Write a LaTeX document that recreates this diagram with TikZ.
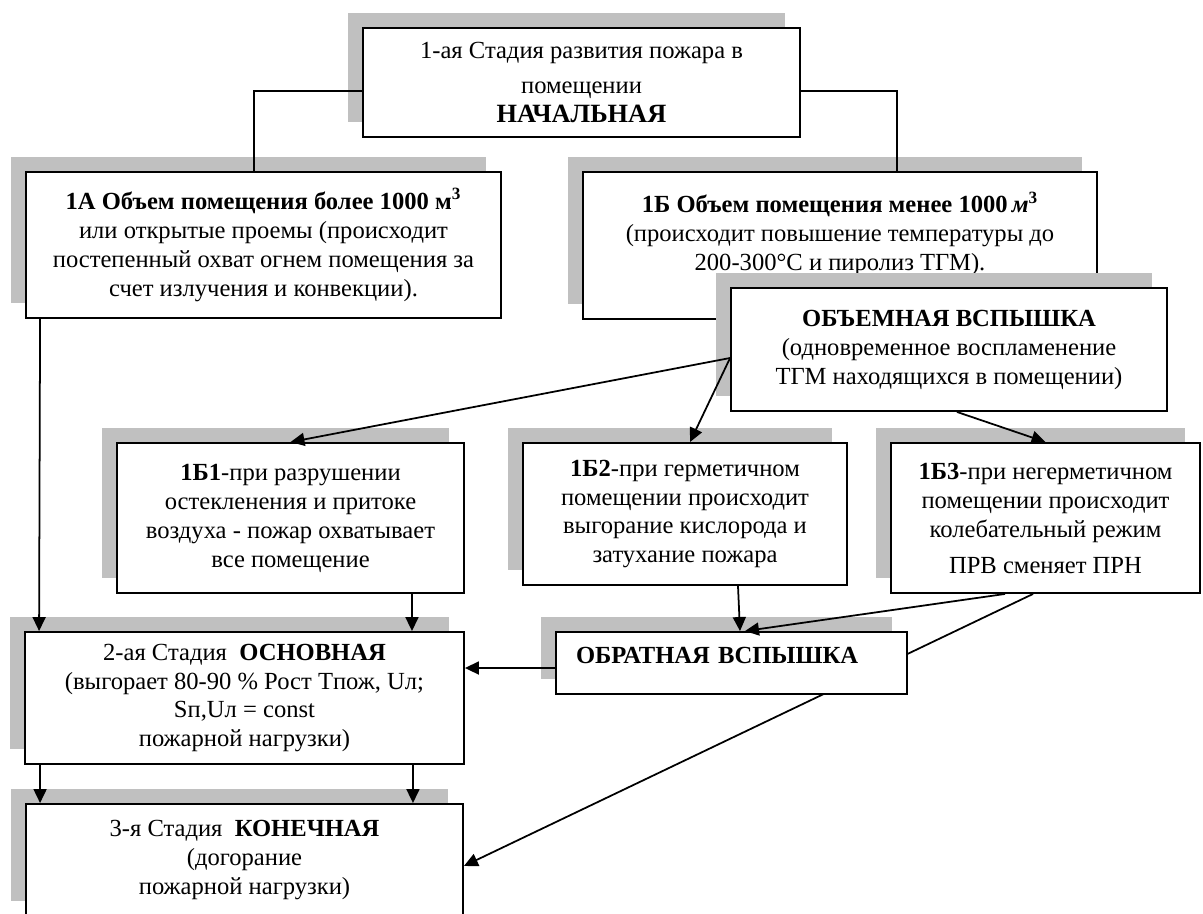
\documentclass[tikz,border=0pt]{standalone}
\usepackage{fontspec}
\setmainfont{Liberation Serif}
\usetikzlibrary{arrows.meta,shadows}
\definecolor{shadowgray}{RGB}{192,192,192}

\begin{document}
\begin{tikzpicture}[x=0.02cm, y=-0.02cm,
  box/.style={draw, line width=1.1pt, fill=white, align=center, inner sep=0pt,
    font=\fontsize{14}{16.5}\selectfont,
    general shadow={fill=shadowgray, shadow xshift=-0.3cm, shadow yshift=0.3cm}},
  arr/.style={-{Triangle[length=0.28cm, width=0.26cm]}, line width=1pt},
  link/.style={line width=1pt}]
\useasboundingbox (0,0) rectangle (1203,913);
\clip (0,0) rectangle (1203,913);

\node[box, minimum width=8.74cm, minimum height=2.18cm] (s1) at (581.5,82.5)
  {1-ая Стадия развития пожара в\\[3pt] помещении\\ \fontsize{15}{17}\selectfont\textbf{НАЧАЛЬНАЯ}};
\node[box, minimum width=9.5cm, minimum height=2.92cm] (a) at (263.5,245)
  {\textbf{1А Объем помещения более 1000 м\textsuperscript{3}}\\ или открытые проемы (происходит\\
   постепенный охват огнем помещения за\\ счет излучения и конвекции).};
\node[box, minimum width=10.28cm, minimum height=2.94cm] (b) at (840,245.5)
  {\textbf{1Б Объем помещения менее 1000\,\textit{м}\textsuperscript{3}}\\
   (происходит повышение температуры до\\ 200-300°С и пиролиз ТГМ).\\ \mbox{}};
\node[box, minimum width=8.72cm, minimum height=2.46cm] (flash) at (949,349.5)
  {\textbf{ОБЪЕМНАЯ ВСПЫШКА}\\ (одновременное воспламенение\\ ТГМ находящихся в помещении)};

\node[box, minimum width=6.94cm, minimum height=3cm] (b1) at (290.5,518)
  {\textbf{1Б1}-при разрушении\\ остекленения и притоке\\ воздуха - пожар охватывает\\ все помещение};
\node[box, minimum width=6.48cm, minimum height=2.84cm] (b2) at (685,514)
  {\textbf{1Б2}-при герметичном\\ помещении происходит\\ выгорание кислорода и\\ затухание пожара};
\node[box, minimum width=6.18cm, minimum height=3cm] (b3) at (1045.5,518)
  {\textbf{1Б3}-при негерметичном\\ помещении происходит\\ колебательный режим\\[4pt] ПРВ сменяет ПРН};

\node[box, minimum width=8.78cm, minimum height=2.64cm] (s2) at (244.5,698)
  {2-ая Стадия \ \textbf{ОСНОВНАЯ}\\ (выгорает 80-90 \% Рост Tпож, Uл;\\ Sп,Uл = const\\ пожарной нагрузки)};
\node[box, minimum width=8.74cm, minimum height=2.24cm] (s3) at (244.5,860)
  {3-я Стадия \ \textbf{КОНЕЧНАЯ}\\ (догорание\\ пожарной нагрузки)};

\draw[arr] ([xshift=-0.25cm]b3.south) -- ([yshift=-0.12cm]s3.east);

\node[box, minimum width=7.02cm, minimum height=1.24cm, text width=6.22cm, align=left,
  inner xsep=0.4cm, text depth=0.3cm] (back) at (731.5,663) {\textbf{ОБРАТНАЯ ВСПЫШКА}};

\draw[link] ([yshift=-0.17cm]s1.west) -| ([xshift=-0.19cm]a.north);
\draw[link] ([yshift=-0.17cm]s1.east) -| ([xshift=1.14cm]b.north);
\draw[arr] ([xshift=0.3cm]a.south west) -- ([xshift=0.3cm]s2.north west);
\draw[arr] ([yshift=-0.17cm]flash.west) -- (b1.north);
\draw[arr] ([yshift=-0.17cm]flash.west) -- ([xshift=0.1cm]b2.north);
\draw[arr] ([xshift=0.16cm]flash.south) -- (b3.north);
\draw[arr] ([xshift=2.43cm]b1.south) -- ([xshift=2.43cm]b1.south |- s2.north);
\draw[arr] ([xshift=1.06cm]b2.south) -- ([xshift=0.17cm]back.north);
\draw[arr] ([xshift=-0.81cm]b3.south) -- ([xshift=0.27cm]back.north);
\draw[arr] ([yshift=-0.1cm]back.west) -- ([yshift=-0.1cm]back.west -| s2.east);
\draw[arr] ([xshift=0.32cm]s2.south west) -- ([xshift=0.32cm]s2.south west |- s3.north);
\draw[arr] ([xshift=3.37cm]s2.south) -- ([xshift=3.37cm]s2.south |- s3.north);
\end{tikzpicture}
\end{document}
